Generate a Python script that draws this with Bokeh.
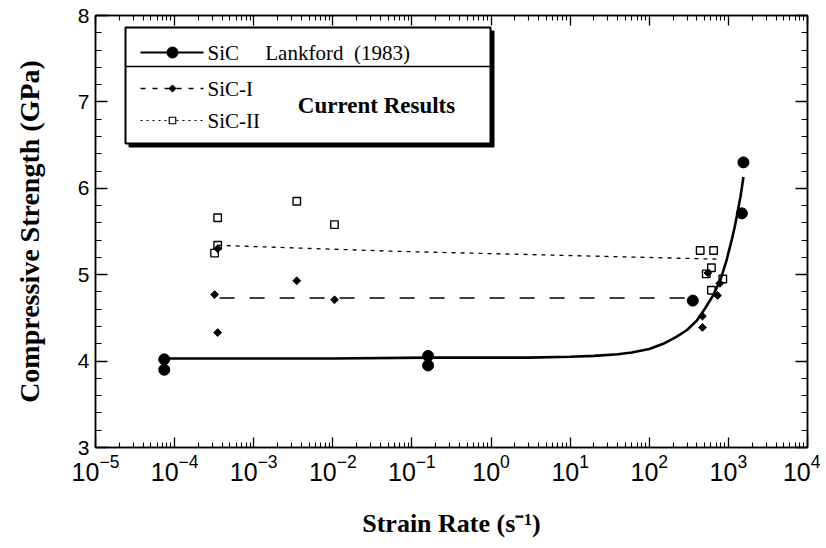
import math
from bokeh.plotting import figure
from bokeh.models import LogAxis, LinearAxis, FixedTicker, LogTickFormatter, CustomJSTickFormatter
from bokeh.core.properties import value
from bokeh.embed import file_html
from bokeh.resources import INLINE

# ---------------- data ----------------
lankford_rate = [7.4e-5, 7.4e-5, 0.16, 0.16, 355, 1480, 1550]
lankford_strength = [4.02, 3.90, 4.06, 3.95, 4.70, 5.71, 6.30]

lankford_fit_rate = [7.4e-5, 1e-2, 1.6e-1, 3, 10, 20, 40, 60, 100, 150, 220, 300, 400, 500, 650, 800,
                     950, 1100, 1200, 1300, 1420, 1550]
lankford_fit_strength = [4.03, 4.03, 4.04, 4.04, 4.05, 4.06, 4.08, 4.10, 4.14, 4.20, 4.28, 4.36, 4.47,
                         4.60, 4.77, 4.95, 5.17, 5.40, 5.55, 5.71, 5.90, 6.13]

sic1_rate = [3.2e-4, 3.5e-4, 3.5e-4, 3.5e-3, 1.05e-2, 470, 470, 550, 730, 780]
sic1_strength = [4.77, 5.30, 4.33, 4.93, 4.71, 4.52, 4.39, 5.02, 4.76, 4.90]
sic1_fit_rate = [3.3e-4, 420]
sic1_fit_strength = [4.73, 4.73]

sic2_rate = [3.5e-4, 3.5e-4, 3.2e-4, 3.5e-3, 1.05e-2, 440, 650, 610, 525, 850, 610]
sic2_strength = [5.66, 5.34, 5.25, 5.85, 5.58, 5.28, 5.28, 5.08, 5.01, 4.95, 4.82]
sic2_fit_rate = [3.5e-4, 6.6e-2, 750]
sic2_fit_strength = [5.34, 5.27, 5.18]

x_ticks = [1e-5, 1e-4, 1e-3, 1e-2, 1e-1, 1e0, 1e1, 1e2, 1e3, 1e4]
y_ticks = [3, 4, 5, 6, 7, 8]
legend_labels = ["SiC\u00a0\u00a0\u00a0\u00a0\u00a0Lankford\u00a0\u00a0(1983)", "SiC-I", "SiC-II"]
group_label = "Current Results"
x_title = "Strain Rate (s\u207b\u00b9)"
y_title = "Compressive Strength (GPa)"

# ---------------- layout / style ----------------
W, H = 820, 540
BL, BR, BT, BB = 95, 13, 15, 93
FW, FH = W - BL - BR, H - BT - BB
X0, X1 = 1e-5, 1e4
Y0, Y1 = 3, 8
SERIF = "Liberation Serif"
SANS = "Liberation Sans"


def fx(px):
    """frame pixel (from left) -> data x"""
    lo, hi = math.log10(X0), math.log10(X1)
    return 10 ** (lo + (hi - lo) * px / FW)


def fy(py):
    """frame pixel (from top) -> data y"""
    return Y1 - (Y1 - Y0) * py / FH


minor_x = [m * 10 ** e for e in range(-5, 4) for m in range(2, 10)]
minor_y = [round(y_ticks[0] + 0.2 * i, 2) for i in range(int((y_ticks[-1] - y_ticks[0]) / 0.2) + 1)]
minor_y = [v for v in minor_y if v not in y_ticks]

p = figure(width=W, height=H, x_axis_type="log", x_range=(X0, X1), y_range=(Y0, Y1),
           output_backend="svg", toolbar_location=None,
           min_border_left=BL, min_border_right=BR, min_border_top=BT, min_border_bottom=BB)
p.grid.visible = False
p.outline_line_color = "black"
p.outline_line_width = 1.5
p.background_fill_color = "white"
p.border_fill_color = "white"

xt = FixedTicker(ticks=x_ticks, minor_ticks=minor_x)
yt = FixedTicker(ticks=y_ticks, minor_ticks=minor_y)


def style_axis(ax, major, minor, size="21px"):
    ax.axis_line_color = "black"
    ax.axis_line_width = 1.5
    ax.major_tick_in = major
    ax.major_tick_out = 0
    ax.minor_tick_in = minor
    ax.minor_tick_out = 0
    ax.major_tick_line_color = "black"
    ax.minor_tick_line_color = "black"
    ax.major_tick_line_width = 1.3
    ax.minor_tick_line_width = 1.1
    ax.major_label_text_font = SANS
    ax.major_label_text_font_size = size
    ax.major_label_text_color = "black"


xa = p.xaxis[0]
xa.ticker = xt
xa.formatter = LogTickFormatter()
style_axis(xa, 10, 5, size="25px")
xa.major_label_standoff = 6
xa.axis_label = x_title
xa.axis_label_text_font = SERIF
xa.axis_label_text_font_style = "bold"
xa.axis_label_text_font_size = "26px"
xa.axis_label_text_color = "black"
xa.axis_label_standoff = 25

ya = p.yaxis[0]
ya.ticker = yt
style_axis(ya, 12, 6)
ya.major_label_standoff = 6
ya.axis_label = y_title
ya.axis_label_text_font = SERIF
ya.axis_label_text_font_style = "bold"
ya.axis_label_text_font_size = "28px"
ya.axis_label_text_color = "black"
ya.axis_label_standoff = 30

blank = CustomJSTickFormatter(code="return '';")
top_ax = LogAxis(ticker=FixedTicker(ticks=x_ticks, minor_ticks=minor_x), formatter=blank)
style_axis(top_ax, 10, 5)
top_ax.major_label_text_font_size = "1px"
top_ax.major_label_standoff = 0
p.add_layout(top_ax, "above")
right_ax = LinearAxis(ticker=FixedTicker(ticks=y_ticks, minor_ticks=minor_y), formatter=blank)
style_axis(right_ax, 12, 6)
right_ax.major_label_text_font_size = "1px"
right_ax.major_label_standoff = 0
p.add_layout(right_ax, "right")

# ---------------- data marks ----------------
p.line(lankford_fit_rate, lankford_fit_strength, line_color="black", line_width=2.6)
p.line(sic1_fit_rate, sic1_fit_strength, line_color="black", line_width=1.6, line_dash="15 15",
       line_dash_offset=-4)
p.line(sic2_fit_rate, sic2_fit_strength, line_color="black", line_width=1.3, line_dash="4 5")
p.scatter(lankford_rate, lankford_strength, marker="circle", size=11, fill_color="black", line_color="black")
p.scatter(sic2_rate, sic2_strength, marker="square", size=7.5, fill_alpha=0, line_color="black", line_width=1.4)
p.scatter(sic1_rate, sic1_strength, marker="square", angle=math.pi / 4, size=5.5,
          fill_color="black", line_color="black")

# ---------------- legend box (drawn) ----------------
LX0, LX1, LY0, LY1 = 30, 395, 12, 128   # frame px
SH = 3.5
p.quad(left=[fx(LX0 + SH)], right=[fx(LX1 + SH)], top=[fy(LY0 + SH)], bottom=[fy(LY1 + SH)],
       fill_color="black", line_color="black")
p.quad(left=[fx(LX0)], right=[fx(LX1)], top=[fy(LY0)], bottom=[fy(LY1)],
       fill_color="white", line_color="black", line_width=2)
p.segment(x0=[fx(LX0)], x1=[fx(LX1)], y0=[fy(51)], y1=[fy(51)], line_color="black", line_width=1.5)

rows = [37, 73, 105]
SX0, SX1, SXM, TX = 45, 108, 77, 112
p.line([fx(SX0), fx(SX1)], [fy(rows[0])] * 2, line_color="black", line_width=2)
p.scatter([fx(SXM)], [fy(rows[0])], marker="circle", size=11, fill_color="black", line_color="black")
p.line([fx(SX0), fx(SX1)], [fy(rows[1])] * 2, line_color="black", line_width=1.3, line_dash="5 7")
p.scatter([fx(SXM)], [fy(rows[1])], marker="square", angle=math.pi / 4, size=5,
          fill_color="black", line_color="black")
p.line([fx(SX0), fx(SX1)], [fy(rows[2])] * 2, line_color="black", line_width=1.2, line_dash="2 4")
p.scatter([fx(SXM)], [fy(rows[2])], marker="square", size=6.5, fill_color="white", line_color="black",
          line_width=1.2)
p.text(x=[fx(TX)] * 3, y=[fy(r) for r in rows], text=legend_labels, text_font=value(SERIF),
       text_font_size="21px", text_baseline="middle", text_align="left", text_color="black")
p.text(x=[fx(281)], y=[fy(90)], text=[group_label], text_font=value(SERIF), text_font_style="bold",
       text_font_size="23px", text_baseline="middle", text_align="center", text_color="black")

open("out.html", "w").write(file_html(p, INLINE))
